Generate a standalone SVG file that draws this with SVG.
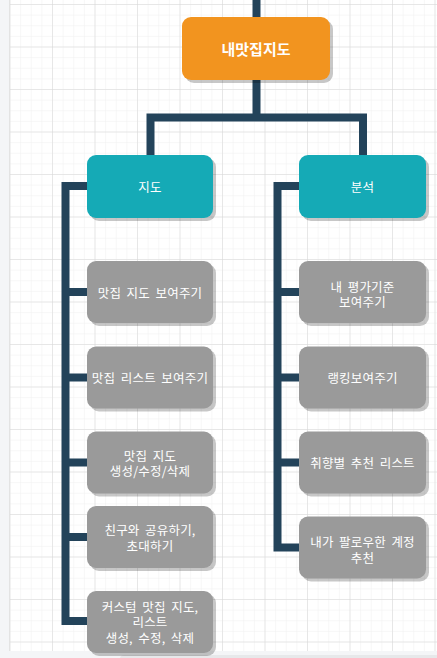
<svg xmlns="http://www.w3.org/2000/svg" width="437" height="658" viewBox="0 0 437 658">
<defs>
<pattern id="minor" patternUnits="userSpaceOnUse" x="9.5" y="4" width="10.625" height="10.625">
<path d="M0 0H10.625M0 0V10.625" fill="none" stroke="#efefef" stroke-width="1"/>
</pattern>
<pattern id="major" patternUnits="userSpaceOnUse" x="9.5" y="4" width="42.5" height="42.5">
<path d="M0 0H42.5M0 0V42.5" fill="none" stroke="#d8d8d8" stroke-width="1"/>
</pattern>
</defs>
<style>
.sh{fill:#000;opacity:0.22}
.root{fill:#f2941f}
.cat{fill:#15aab6}
.leaf{fill:#9a9a9a}
.conn{fill:none;stroke:#23435a;stroke-width:8;stroke-linejoin:miter;stroke-linecap:butt}
text{font-family:"Noto Sans CJK KR","Noto Sans",sans-serif;fill:#fff;text-anchor:middle;dominant-baseline:central}
.t{font-size:12.5px;word-spacing:2.5px;letter-spacing:0.2px}
.rt{font-size:15px;font-weight:bold}
</style>
<rect x="0" y="0" width="437" height="658" fill="#fff"/>
<rect x="9.5" y="0" width="427.5" height="651" fill="url(#minor)"/>
<rect x="9.5" y="0" width="427.5" height="651" fill="url(#major)"/>
<rect x="0" y="0" width="9" height="658" fill="#f4f5f7"/>
<line x1="9.5" y1="0" x2="9.5" y2="651" stroke="#e3e3e3"/>
<rect x="0" y="651" width="437" height="7" fill="#f4f5f7"/>
<rect x="120" y="655" width="330" height="10" rx="4" fill="#e7e8ea"/>

<g id="connectors">
<path class="conn" d="M256.5 0V17"/>
<path class="conn" d="M256.5 80V117.5M150.5 155V117.5H363V155"/>
<path class="conn" d="M87 186H65.5V621H87M87 292H65.5M87 377.5H65.5M87 462.5H65.5M87 537H65.5"/>
<path class="conn" d="M299 186H277.5V547.5H299M299 292H277.5M299 377.5H277.5M299 462.5H277.5"/>
</g>

<g id="root">
<rect class="sh" x="185" y="20" width="148" height="63" rx="9"/>
<rect class="root" x="182" y="17" width="148" height="63" rx="9"/>
<text class="rt" x="256" y="48">내맛집지도</text>
</g>

<g id="map">
<rect class="sh" x="90" y="158" width="126" height="63" rx="9"/>
<rect class="cat" x="87" y="155" width="126" height="63" rx="9"/>
<text class="t" x="150" y="186">지도</text>
</g>
<g id="analysis">
<rect class="sh" x="302" y="158" width="127" height="63" rx="9"/>
<rect class="cat" x="299" y="155" width="127" height="63" rx="9"/>
<text class="t" x="362.5" y="186">분석</text>
</g>

<g id="l1">
<rect class="sh" x="90" y="264" width="126" height="62" rx="9"/>
<rect class="leaf" x="87" y="261" width="126" height="62" rx="9"/>
<text class="t" x="150" y="292">맛집 지도 보여주기</text>
</g>
<g id="l2">
<rect class="sh" x="90" y="349.5" width="126" height="62" rx="9"/>
<rect class="leaf" x="87" y="346.5" width="126" height="62" rx="9"/>
<text class="t" x="150" y="377.5">맛집 리스트 보여주기</text>
</g>
<g id="l3">
<rect class="sh" x="90" y="434.5" width="126" height="62" rx="9"/>
<rect class="leaf" x="87" y="431.5" width="126" height="62" rx="9"/>
<text class="t" x="150" y="454.5"><tspan x="150" y="454.5">맛집 지도</tspan><tspan x="150" y="470">생성/수정/삭제</tspan></text>
</g>
<g id="l4">
<rect class="sh" x="90" y="509" width="126" height="62" rx="9"/>
<rect class="leaf" x="87" y="506" width="126" height="62" rx="9"/>
<text class="t" x="150" y="529"><tspan x="150" y="529">친구와 공유하기,</tspan><tspan x="150" y="544.5">초대하기</tspan></text>
</g>
<g id="l5">
<rect class="sh" x="90" y="594" width="126" height="62" rx="9"/>
<rect class="leaf" x="87" y="591" width="126" height="62" rx="9"/>
<text class="t" x="150" y="605.5"><tspan x="150" y="605.5">커스텀 맛집 지도,</tspan><tspan x="150" y="621">리스트</tspan><tspan x="150" y="636.5">생성, 수정, 삭제</tspan></text>
</g>

<g id="r1">
<rect class="sh" x="302" y="264" width="127" height="62" rx="9"/>
<rect class="leaf" x="299" y="261" width="127" height="62" rx="9"/>
<text class="t" x="362.5" y="285.5"><tspan x="362.5" y="285.5">내 평가기준</tspan><tspan x="362.5" y="301">보여주기</tspan></text>
</g>
<g id="r2">
<rect class="sh" x="302" y="349.5" width="127" height="62" rx="9"/>
<rect class="leaf" x="299" y="346.5" width="127" height="62" rx="9"/>
<text class="t" x="362.5" y="377.5">랭킹보여주기</text>
</g>
<g id="r3">
<rect class="sh" x="302" y="434.5" width="127" height="62" rx="9"/>
<rect class="leaf" x="299" y="431.5" width="127" height="62" rx="9"/>
<text class="t" x="362.5" y="462">취향별 추천 리스트</text>
</g>
<g id="r4">
<rect class="sh" x="302" y="519.5" width="127" height="62" rx="9"/>
<rect class="leaf" x="299" y="516.5" width="127" height="62" rx="9"/>
<text class="t" x="362.5" y="541"><tspan x="362.5" y="541">내가 팔로우한 계정</tspan><tspan x="362.5" y="556.5">추천</tspan></text>
</g>
</svg>
